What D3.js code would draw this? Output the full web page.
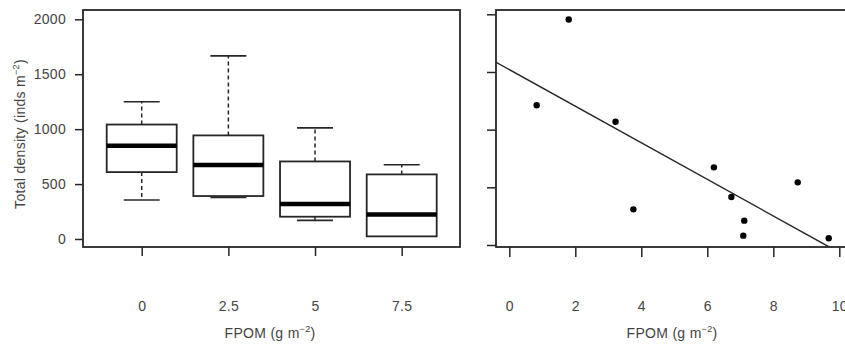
<!DOCTYPE html>
<html><head><meta charset="utf-8">
<script src="https://cdn.jsdelivr.net/npm/d3@7"></script>
<style>body{margin:0;background:#fff}svg{display:block}</style>
</head><body>
<script>
// ---- data ----
const categories = ["0", "2.5", "5", "7.5"];
const whiskerLow = [355, 378, 170, 24];
const q1 = [609, 391, 203, 24];
const medians = [848, 673, 318, 224];
const q3 = [1042, 943, 706, 588];
const whiskerHigh = [1250, 1667, 1012, 676];
const yTicks = [0, 500, 1000, 1500, 2000];
const fpomX = [1.80, 0.83, 3.22, 3.76, 6.20, 6.73, 7.12, 7.09, 8.74, 9.68];
const densityY = [1955, 1211, 1069, 309, 673, 416, 211, 81, 543, 58];
const xTicksRight = [0, 2, 4, 6, 8, 10];
const fitLine = [{x: -0.41, y: 1586}, {x: 9.68, y: -15}];

const W = 845, H = 346;
const ink = "#262626", txt = "#444";
const font = "'Liberation Sans', Arial, sans-serif";
const fs = 14;
const svg = d3.select("body").append("svg").attr("width", W).attr("height", H);

function styleText(sel) {
  sel.attr("fill", txt).attr("font-family", font).attr("font-size", fs).attr("letter-spacing", 0.3);
}

// ---- left panel ----
const L = {x0: 83, x1: 460, y0: 10, y1: 247};
const yL = d3.scaleLinear().domain([0, 2000]).range([239, 19.3]);
const xL = d3.scalePoint().domain(categories).range([141.7, 401.7]);
const boxW = 70, capW = 36;

const gL = svg.append("g");
gL.append("rect").attr("x", L.x0).attr("y", L.y0).attr("width", L.x1 - L.x0).attr("height", L.y1 - L.y0)
  .attr("fill", "none").attr("stroke", ink).attr("stroke-width", 1.8);

const yAxL = d3.axisLeft(yL).tickValues(yTicks).tickSize(8).tickPadding(9).tickFormat(d3.format("d"));
gL.append("g").attr("transform", `translate(${L.x0},0)`).call(yAxL)
  .call(g => g.select(".domain").remove())
  .call(g => g.selectAll("line").attr("stroke", ink).attr("stroke-width", 1.5))
  .call(g => g.selectAll("text").call(styleText));

const xAxL = d3.axisBottom(xL).tickSize(9).tickPadding(45);
gL.append("g").attr("transform", `translate(0,${L.y1})`).call(xAxL)
  .call(g => g.select(".domain").remove())
  .call(g => g.selectAll("line").attr("stroke", ink).attr("stroke-width", 1.5))
  .call(g => g.selectAll("text").call(styleText));

categories.forEach((c, i) => {
  const cx = xL(c);
  const g = gL.append("g");
  g.append("line").attr("x1", cx).attr("x2", cx).attr("y1", yL(q3[i])).attr("y2", yL(whiskerHigh[i]))
    .attr("stroke", ink).attr("stroke-width", 1.5).attr("stroke-dasharray", "4,3");
  g.append("line").attr("x1", cx).attr("x2", cx).attr("y1", yL(q1[i])).attr("y2", yL(whiskerLow[i]))
    .attr("stroke", ink).attr("stroke-width", 1.5).attr("stroke-dasharray", "4,3");
  g.append("line").attr("x1", cx - capW / 2).attr("x2", cx + capW / 2).attr("y1", yL(whiskerHigh[i])).attr("y2", yL(whiskerHigh[i]))
    .attr("stroke", ink).attr("stroke-width", 1.6);
  if (whiskerLow[i] < q1[i])
    g.append("line").attr("x1", cx - capW / 2).attr("x2", cx + capW / 2).attr("y1", yL(whiskerLow[i])).attr("y2", yL(whiskerLow[i]))
      .attr("stroke", ink).attr("stroke-width", 1.6);
  g.append("rect").attr("x", cx - boxW / 2).attr("y", yL(q3[i])).attr("width", boxW).attr("height", yL(q1[i]) - yL(q3[i]))
    .attr("fill", "#fff").attr("stroke", ink).attr("stroke-width", 1.8);
  g.append("line").attr("x1", cx - boxW / 2).attr("x2", cx + boxW / 2).attr("y1", yL(medians[i])).attr("y2", yL(medians[i]))
    .attr("stroke", "#000").attr("stroke-width", 4.5);
});

function unitLabel(g, main, attrs) {
  const t = g.append("text").attr("text-anchor", "middle").call(styleText);
  Object.entries(attrs).forEach(([k, v]) => t.attr(k, v));
  t.append("tspan").text(main);
  t.append("tspan").attr("dy", -6).attr("font-size", 9).text("−2");
  t.append("tspan").attr("dy", 6).text(")");
  return t;
}
unitLabel(gL, "Total density (inds m", {transform: "translate(25,134) rotate(-90)"});
unitLabel(gL, "FPOM (g m", {x: 270, y: 338});

// ---- right panel ----
const R = {x0: 496, x1: 860, y0: 10, y1: 247};
const yR = d3.scaleLinear().domain([0, 2000]).range([245, 14.3]);
const xR = d3.scaleLinear().domain([0, 10]).range([509.3, 839.3]);
const gR = svg.append("g");
gR.append("rect").attr("x", R.x0).attr("y", R.y0).attr("width", R.x1 - R.x0).attr("height", R.y1 - R.y0)
  .attr("fill", "none").attr("stroke", ink).attr("stroke-width", 1.8);

const yAxR = d3.axisLeft(yR).tickValues(yTicks).tickSize(9).tickFormat("");
gR.append("g").attr("transform", `translate(${R.x0},0)`).call(yAxR)
  .call(g => g.select(".domain").remove())
  .call(g => g.selectAll("line").attr("stroke", ink).attr("stroke-width", 1.5));

const xAxR = d3.axisBottom(xR).tickValues(xTicksRight).tickSize(10).tickPadding(44).tickFormat(d3.format("d"));
gR.append("g").attr("transform", `translate(0,${R.y1})`).call(xAxR)
  .call(g => g.select(".domain").remove())
  .call(g => g.selectAll("line").attr("stroke", ink).attr("stroke-width", 1.5))
  .call(g => g.selectAll("text").call(styleText));

gR.append("clipPath").attr("id", "clipR").append("rect")
  .attr("x", R.x0).attr("y", R.y0).attr("width", R.x1 - R.x0).attr("height", R.y1 - R.y0);
gR.append("path").datum(fitLine).attr("clip-path", "url(#clipR)")
  .attr("d", d3.line().x(d => xR(d.x)).y(d => yR(d.y)))
  .attr("fill", "none").attr("stroke", ink).attr("stroke-width", 1.4);

gR.selectAll("circle.pt").data(fpomX.map((x, i) => ({x, y: densityY[i]}))).join("circle")
  .attr("class", "pt").attr("cx", d => xR(d.x)).attr("cy", d => yR(d.y)).attr("r", 3.2).attr("fill", "#000");

unitLabel(gR, "FPOM (g m", {x: 672, y: 338});
</script>
</body></html>
